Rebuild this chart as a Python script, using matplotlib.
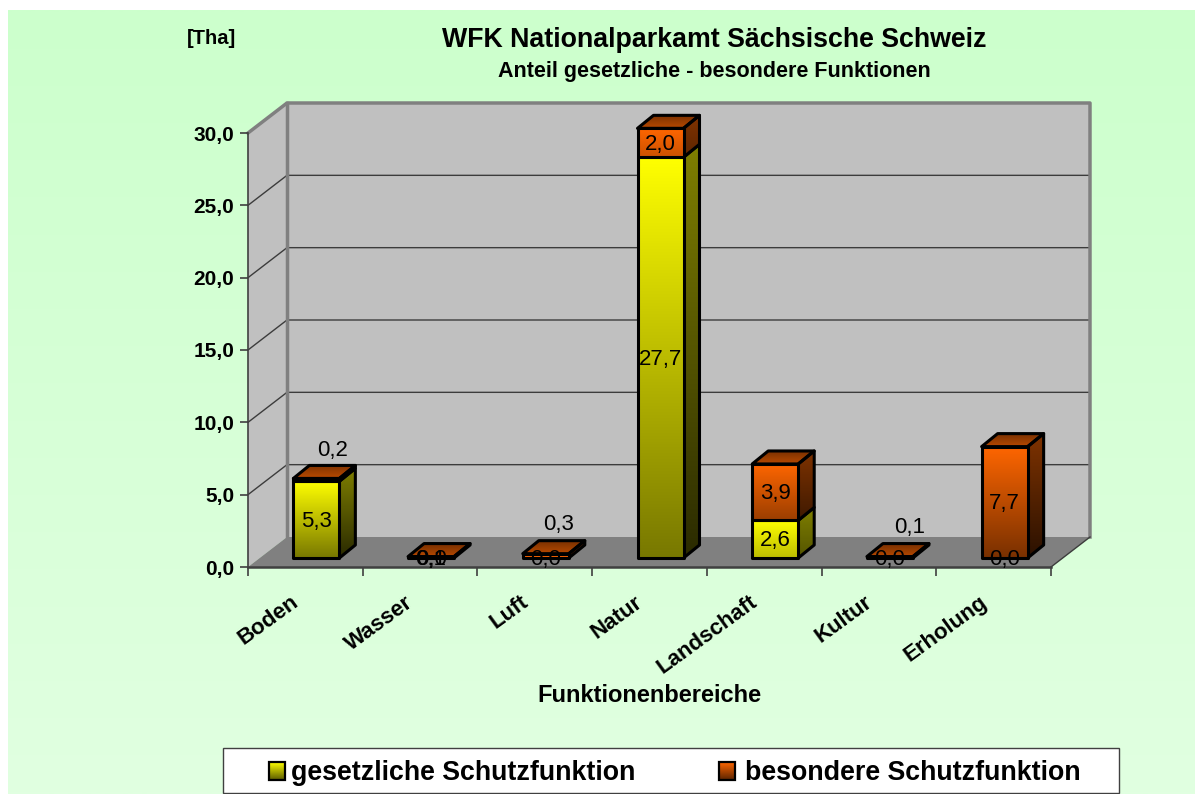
import matplotlib; matplotlib.use('Agg')
import matplotlib.pyplot as plt
from matplotlib.patches import Polygon, Rectangle
from matplotlib.colors import to_rgb
from matplotlib.transforms import ScaledTranslation
import numpy as np

plt.rcParams['font.family'] = ['Liberation Sans', 'DejaVu Sans']

categories = ['Boden', 'Wasser', 'Luft', 'Natur', 'Landschaft', 'Kultur', 'Erholung']
gesetzlich = [5.3, 0.0, 0.0, 27.7, 2.6, 0.0, 0.0]
besonders = [0.2, 0.1, 0.3, 2.0, 3.9, 0.1, 7.7]
yticks = [0, 5, 10, 15, 20, 25, 30]

W, H = 1195, 794
# front plane of the box in pixels
L, R, T, B = 248, 1051, 133, 567
PX = (R - L) / 7
PY = (B - T) / 30
WALL_DX, WALL_DY = 39 / PX, 30 / PY       # wall offset in data units
BAR_X, BAR_Y = 11 / PX, 9 / PY            # bar front offset
BAR_DX, BAR_DY = 16 / PX, 13 / PY         # bar depth
BAR_W = 46 / PX

YELLOW, ORANGE = '#ffff00', '#ff6600'
WALL, FLOOR, EDGE, GRID = '#c0c0c0', '#808080', '#808080', '#3c3c3c'

# where the small orange labels float, offset from the bar top in points
LABEL_OFFSET = {0: (12, 20), 2: (9, 21), 5: (14, 21)}


def shade(color, f):
    return tuple(c * f for c in to_rgb(color))


def gradient(ax, verts, c_top, c_bot, zorder):
    xs, ys = zip(*verts)
    grad = np.linspace(0, 1, 256)[:, None, None]
    img = (1 - grad) * np.array(to_rgb(c_top)) + grad * np.array(to_rgb(c_bot))
    im = ax.imshow(img, extent=(min(xs), max(xs), min(ys), max(ys)), aspect='auto',
                   origin='upper', zorder=zorder, interpolation='bilinear')
    clip = Polygon(verts, transform=ax.transData)
    im.set_clip_path(clip)
    im.set_clip_box(ax.figure.bbox)
    ax.add_patch(Polygon(verts, fill=False, ec='black', lw=2.2, joinstyle='round',
                         zorder=zorder + 0.1, clip_on=False))


def segment(ax, x0, y0, y1, color, zorder, top=False):
    v = y1 - y0
    f = max(0.47, 1 - 0.1 * v)
    fs = max(0.33, 1 - 0.13 * v)
    x1 = x0 + BAR_W
    side = shade(color, 0.5)
    gradient(ax, [(x1, y0), (x1 + BAR_DX, y0 + BAR_DY), (x1 + BAR_DX, y1 + BAR_DY), (x1, y1)],
             side, shade(side, fs), zorder)
    if top:
        gradient(ax, [(x0, y1), (x1, y1), (x1 + BAR_DX, y1 + BAR_DY), (x0 + BAR_DX, y1 + BAR_DY)],
                 shade(color, 0.48), shade(color, 0.72), zorder)
    gradient(ax, [(x0, y0), (x1, y0), (x1, y1), (x0, y1)], color, shade(color, f), zorder + 0.2)


fig = plt.figure(figsize=(W / 100, H / 100), dpi=100, facecolor='white')

# background and legend live in a pixel-sized axes
bg = fig.add_axes([0, 0, 1, 1])
bg.axis('off')
grad = np.linspace(0, 1, 256)[:, None, None]
bg_img = (1 - grad) * np.array(to_rgb('#ccffcc')) + grad * np.array(to_rgb('#e1ffe1'))
bg.imshow(bg_img, extent=(8, W, H, 10), aspect='auto', interpolation='bilinear')

bg.add_patch(Rectangle((223.5, 747.5), 896, 45, fc='white', ec='#404040', lw=1, zorder=3))
for x, col in [(269, YELLOW), (719, ORANGE)]:
    g = (1 - grad) * np.array(to_rgb(col)) + grad * np.array(shade(col, 0.35))
    bg.imshow(g, extent=(x, x + 16, 780, 762), aspect='auto', zorder=4)
    bg.add_patch(Rectangle((x, 762), 16, 18, fill=False, ec='black', lw=1.6, zorder=5))
bg.set_xlim(0, W)
bg.set_ylim(H, 0)
bg.text(291, 773, 'gesetzliche Schutzfunktion', fontsize=19.3, fontweight='bold', va='center', zorder=5)
bg.text(745, 773, 'besondere Schutzfunktion', fontsize=19.3, fontweight='bold', va='center', zorder=5)

bg.text(714, 40, 'WFK Nationalparkamt Sächsische Schweiz', fontsize=19.25, fontweight='bold',
        ha='center', va='center')
bg.text(714, 71, 'Anteil gesetzliche - besondere Funktionen', fontsize=15.5, fontweight='bold',
        ha='center', va='center')
bg.text(212, 39, '[Tha]', fontsize=14.5, fontweight='bold', ha='center', va='center')
bg.text(649, 695, 'Funktionenbereiche', fontsize=17, fontweight='bold', ha='center', va='center')

ax = fig.add_axes([L / W, 1 - B / H, (R - L) / W, (B - T) / H])
ax.patch.set_alpha(0)
ax.set_autoscale_on(False)
ax.set_xlim(0, 7)
ax.set_ylim(0, 30)

# side wall, back wall, floor
ax.add_patch(Polygon([(0, 0), (WALL_DX, WALL_DY), (WALL_DX, 30 + WALL_DY), (0, 30)],
                     fc=WALL, ec='none', zorder=1, clip_on=False))
ax.add_patch(Polygon([(WALL_DX, WALL_DY), (7 + WALL_DX, WALL_DY), (7 + WALL_DX, 30 + WALL_DY),
                      (WALL_DX, 30 + WALL_DY)], fc=WALL, ec='none', zorder=1, clip_on=False))
ax.add_patch(Polygon([(0, 0), (7, 0), (7 + WALL_DX, WALL_DY), (WALL_DX, WALL_DY)],
                     fc=FLOOR, ec='none', zorder=1.5, clip_on=False))
for v in yticks[1:-1]:
    ax.plot([0, WALL_DX, 7 + WALL_DX], [v, v + WALL_DY, v + WALL_DY], color=GRID, lw=1,
            zorder=1.2, clip_on=False)
# thick grey frame of the walls
ax.plot([0, WALL_DX, 7 + WALL_DX, 7 + WALL_DX], [30, 30 + WALL_DY, 30 + WALL_DY, WALL_DY],
        color=EDGE, lw=2.5, zorder=1.3, clip_on=False)
ax.plot([WALL_DX, WALL_DX], [WALL_DY, 30 + WALL_DY], color=EDGE, lw=2.5, zorder=1.3, clip_on=False)
ax.plot([7, 7 + WALL_DX], [0, WALL_DY], color=GRID, lw=1, zorder=1.6, clip_on=False)

for i, (g, b) in enumerate(zip(gesetzlich, besonders)):
    x0 = i + 0.5 + BAR_X - BAR_W / 2
    y0 = BAR_Y
    z = 2 + i
    if g > 0:
        segment(ax, x0, y0, y0 + g, YELLOW, z)
    segment(ax, x0, y0 + g, y0 + g + b, ORANGE, z + 0.4, top=True)

    xc = x0 + BAR_W / 2
    ax.annotate(f'{g:.1f}'.replace('.', ','), (xc, y0 + g / 2), xytext=(0, -1),
                textcoords='offset points', fontsize=16, ha='center', va='center', zorder=20)
    if i in LABEL_OFFSET:
        xy, off = (xc, y0 + g + b), LABEL_OFFSET[i]
    elif b < 1:
        xy, off = (xc, y0 + g), (0, -1)
    else:
        xy, off = (xc, y0 + g + b / 2), (0, -1)
    ax.annotate(f'{b:.1f}'.replace('.', ','), xy, xytext=off, textcoords='offset points',
                fontsize=16, ha='center', va='center', zorder=20)

ax.set_yticks(yticks)
ax.set_yticklabels([f'{v:.1f}'.replace('.', ',') for v in yticks], fontsize=15, fontweight='bold')
ax.set_xticks(range(8))
ax.set_xticklabels([])
ax.set_xticks(np.arange(7) + 0.5, minor=True)
ax.set_xticklabels(categories, minor=True, fontsize=16, fontweight='bold', rotation=36,
                   ha='right', va='center', rotation_mode='anchor')
ax.tick_params(axis='y', length=6, width=1.2, color='#404040', pad=4)
ax.tick_params(axis='x', which='major', length=6.5, width=1.2, color='#404040', direction='out')
ax.tick_params(axis='x', which='minor', length=0, pad=24)
# labels end a little left of the category centre
shift = ScaledTranslation(-9 / 100, 0, fig.dpi_scale_trans)
for tick in ax.xaxis.get_minor_ticks():
    tick.label1.set_transform(tick.label1.get_transform() + shift)
for s in ['top', 'right']:
    ax.spines[s].set_visible(False)
ax.spines['left'].set_color('#404040')
ax.spines['left'].set_linewidth(1.2)
ax.spines['bottom'].set_color('#404040')
ax.spines['bottom'].set_linewidth(1.8)
for s in ax.spines.values():
    s.set_zorder(1.7)
ax.set_xlim(0, 7)
ax.set_ylim(0, 30)

fig.savefig('out.png', dpi=100)
